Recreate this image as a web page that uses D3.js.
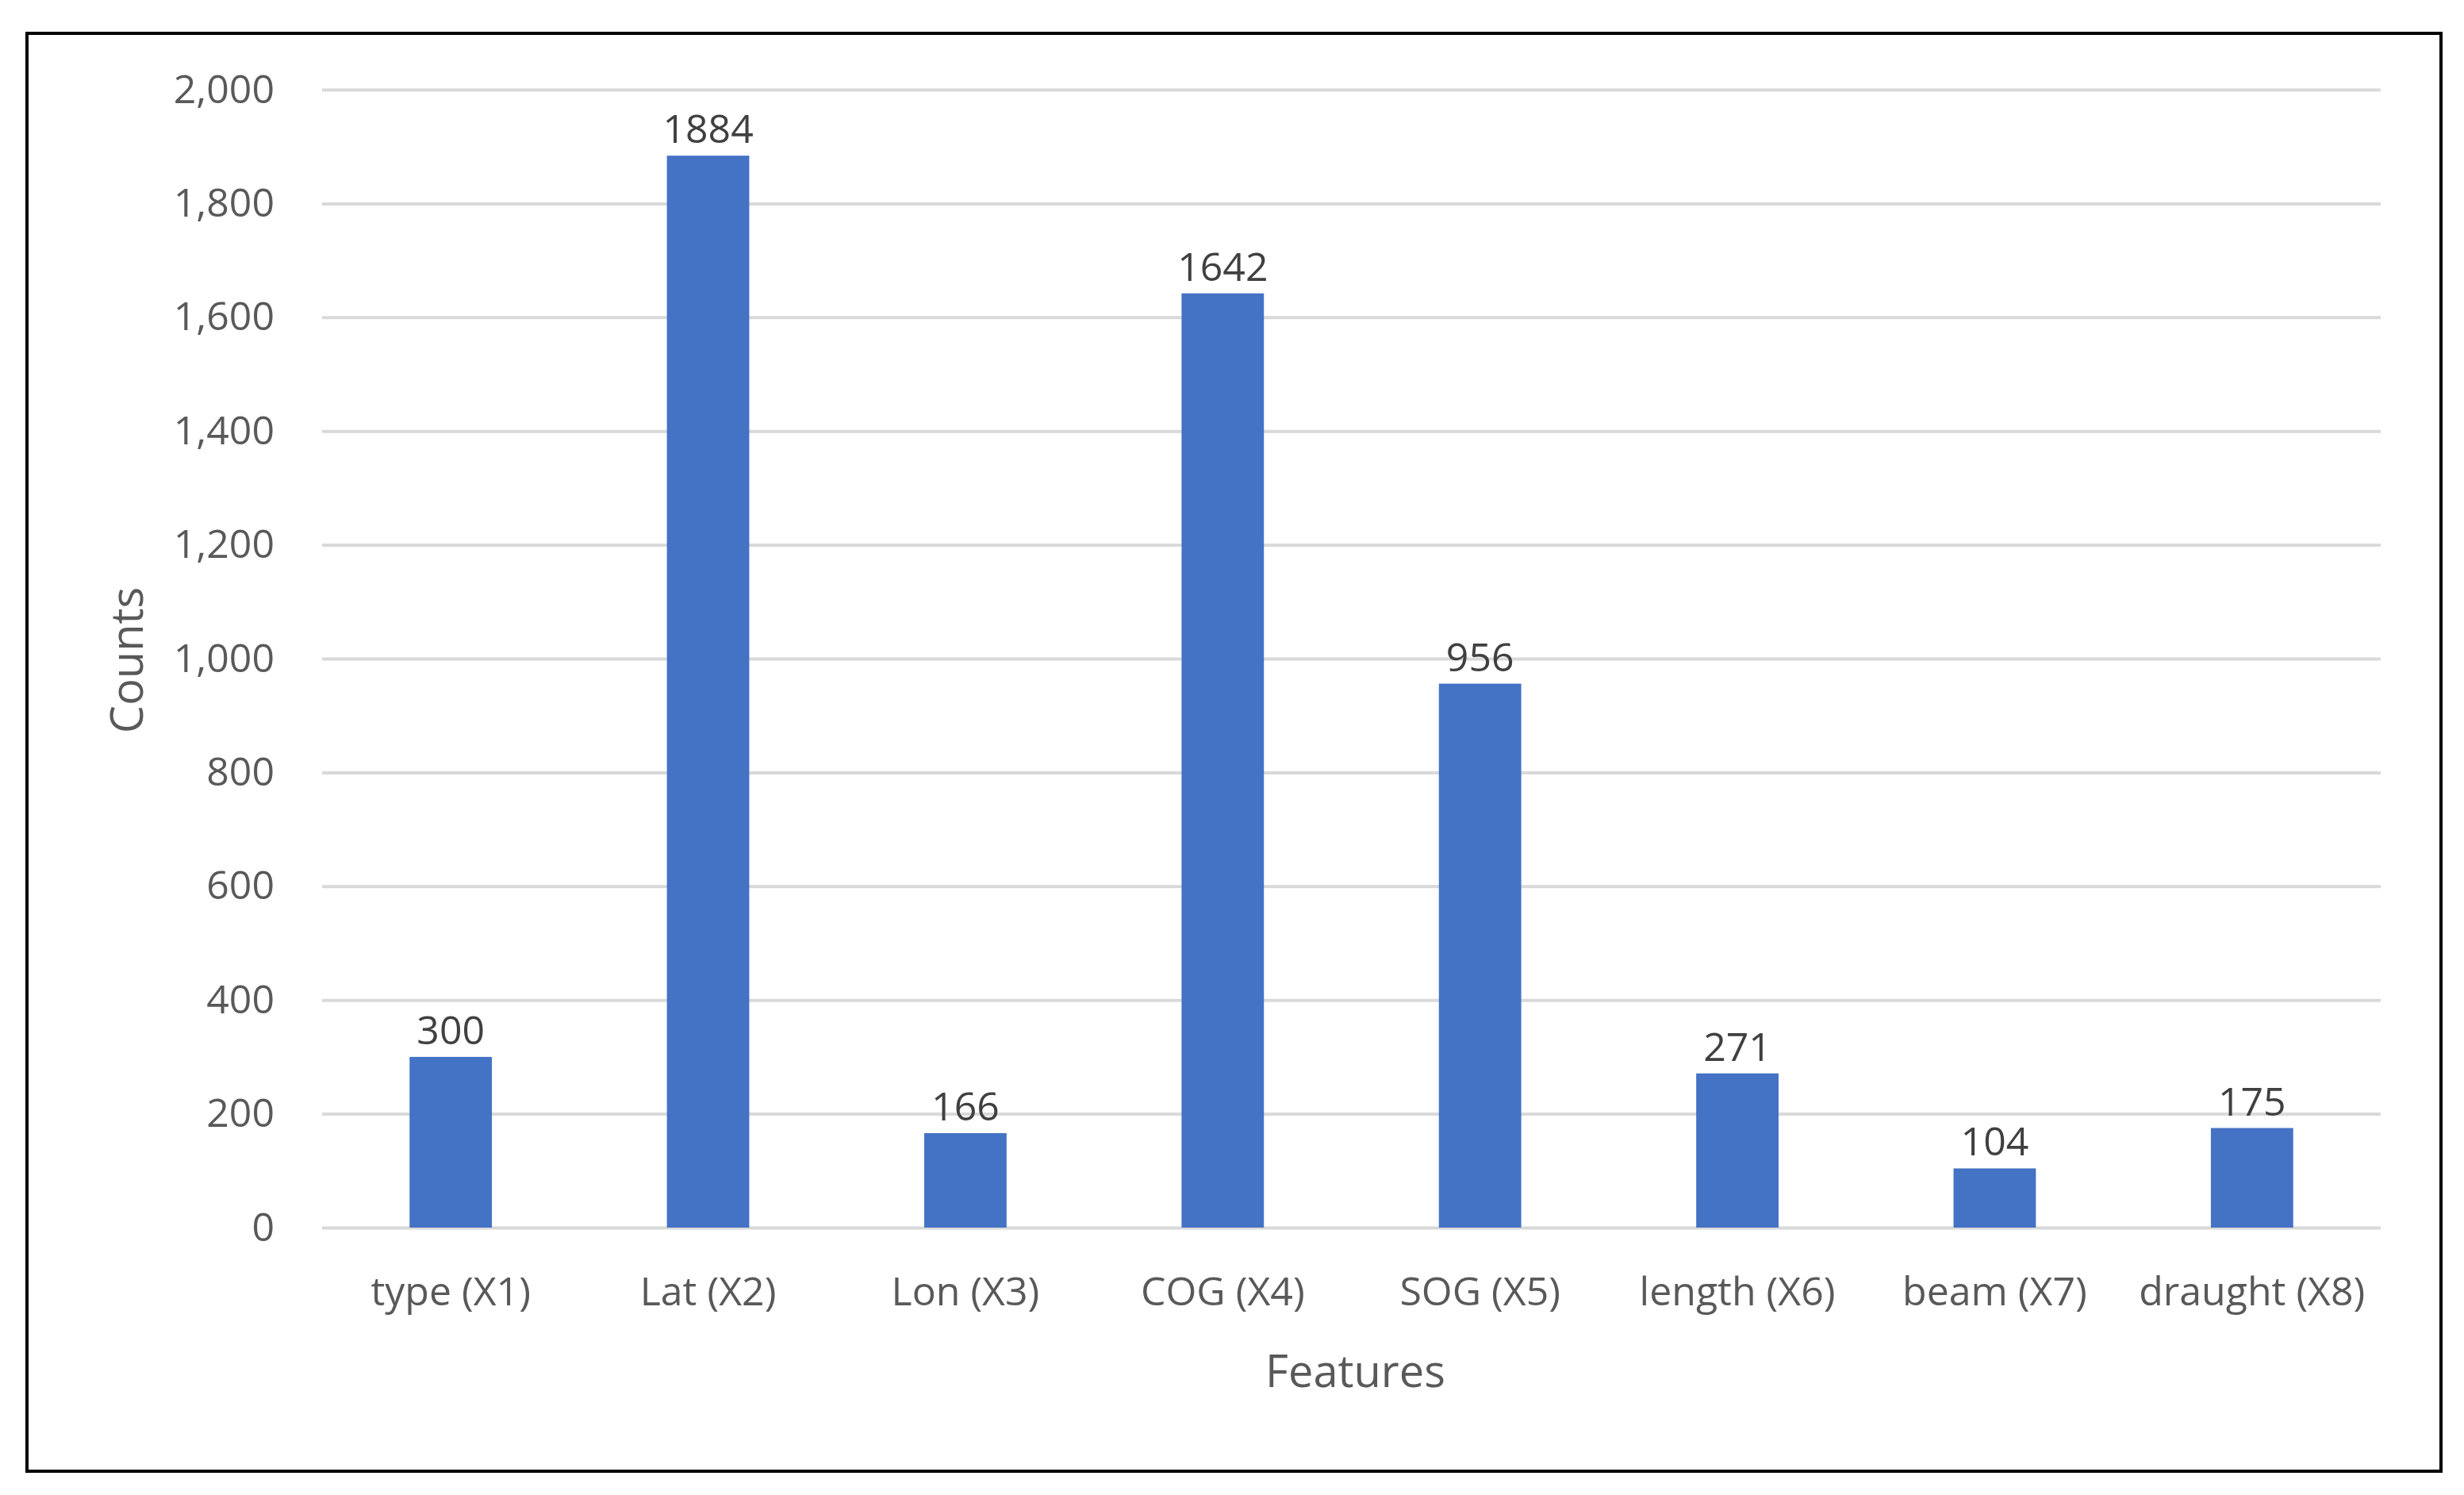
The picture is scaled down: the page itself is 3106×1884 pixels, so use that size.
<!DOCTYPE html>
<html><head><meta charset="utf-8">
<script src="https://cdn.jsdelivr.net/npm/d3@7"></script>
<style>body{margin:0;background:#fff}text{font-family:"Liberation Sans Narrow","Open Sans",sans-serif}</style>
</head><body><svg id="c" width="3106" height="1884"></svg>
<script>
const categories = ["type (X1)","Lat (X2)","Lon (X3)","COG (X4)","SOG (X5)","length (X6)","beam (X7)","draught (X8)"];
const counts = [300,1884,166,1642,956,271,104,175];
const yTicks = [0,200,400,600,800,1000,1200,1400,1600,1800,2000];

const svg = d3.select("#c");
svg.append("rect").attr("x",34).attr("y",42).attr("width",3043).attr("height",1812)
  .attr("fill","#fff").attr("stroke","#000").attr("stroke-width",4);
const L=406,R=3001,T=113,B=1547;
const x = d3.scaleBand().domain(categories).range([L,R]).paddingInner(0.68).paddingOuter(0.34);
const y = d3.scaleLinear().domain([0,2000]).range([B,T]);
const col="#595959";
const ga = svg.append("g").attr("transform",`translate(${L},0)`)
  .call(d3.axisLeft(y).tickValues(yTicks).tickSize(-(R-L)).tickPadding(60));
ga.select(".domain").remove();
ga.selectAll(".tick line").attr("stroke","#d9d9d9").attr("stroke-width",4);
ga.selectAll(".tick text").attr("fill",col).attr("font-size",50);
svg.selectAll(".bar").data(counts).join("rect")
  .attr("x",(d,i)=>x(categories[i])).attr("width",x.bandwidth())
  .attr("y",d=>y(d)).attr("height",d=>y(0)-y(d)).attr("fill","#4472c4");
svg.selectAll(".vl").data(counts).join("text")
  .attr("x",(d,i)=>x(categories[i])+x.bandwidth()/2).attr("y",d=>y(d)-16)
  .attr("text-anchor","middle").attr("fill","#404040").attr("font-size",50).text(d=>d);
const gx = svg.append("g").attr("transform",`translate(0,${B})`)
  .call(d3.axisBottom(x).tickSize(0).tickPadding(62));
gx.select(".domain").remove();
gx.selectAll(".tick text").attr("fill",col).attr("font-size",50);
svg.append("text").attr("x",(L+R)/2+5).attr("y",1748).attr("text-anchor","middle")
  .attr("fill",col).attr("font-size",56).text("Features");
svg.append("text").attr("transform","translate(180,832) rotate(-90)").attr("text-anchor","middle")
  .attr("fill",col).attr("font-size",56).text("Counts");
</script></body></html>
